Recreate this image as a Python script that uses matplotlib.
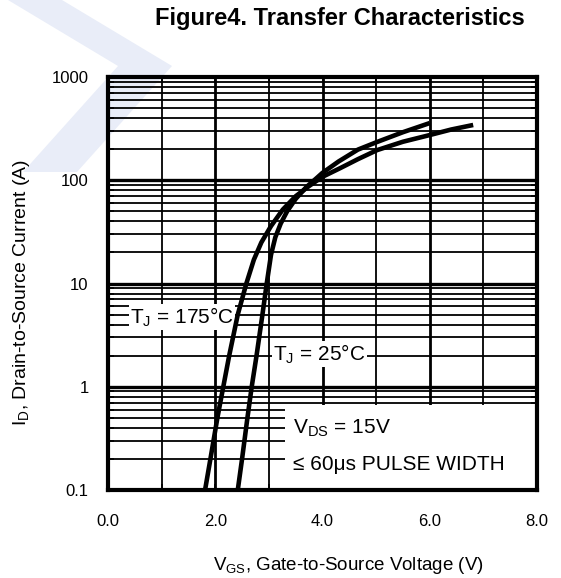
import matplotlib
matplotlib.use("Agg")
import matplotlib.pyplot as plt
import numpy as np
from matplotlib.patches import Polygon, Rectangle
from matplotlib.ticker import FixedLocator, FixedFormatter

vgs_175 = [1.81, 1.91, 2.04, 2.15, 2.26, 2.42, 2.58, 2.72, 2.86, 3.04, 3.26, 3.50, 3.75,
           4.00, 4.33, 4.66, 5.02, 5.50, 6.00, 6.40, 6.81]
id_175 = [0.1, 0.2, 0.5, 1, 2, 5, 10, 17, 25, 36, 52, 70, 88,
          108, 131, 160, 196, 236, 274, 310, 343]

vgs_25 = [2.42, 2.50, 2.60, 2.68, 2.77, 2.88, 2.96, 3.04, 3.12, 3.22, 3.34, 3.50, 3.70,
          3.90, 4.00, 4.30, 4.66, 5.02, 5.50, 6.00]
id_25 = [0.1, 0.2, 0.5, 1, 2, 5, 10, 19, 28, 38, 50, 66, 86,
         106, 118, 152, 198, 235, 292, 358]

x_ticks = [0, 2, 4, 6, 8]
x_labels = ["0.0", "2.0", "4.0", "6.0", "8.0"]
y_ticks = [0.1, 1, 10, 100, 1000]
y_labels = ["0.1", "1", "10", "100", "1000"]

plt.rcParams['font.family'] = ['Liberation Sans', 'DejaVu Sans']

W, H = 561, 578
fig = plt.figure(figsize=(W / 100, H / 100), dpi=100)


def px(x, y):
    return (x / W, 1 - y / H)


# faint watermark chevron behind everything
wm = '#e9edf8'
arm1 = [px(8, 0), px(62, 0), px(172, 66), px(118, 66)]
arm2 = [px(118, 66), px(172, 66), px(77, 172), px(23, 172)]
for pts in (arm1, arm2):
    fig.patches.append(Polygon(pts, closed=True, transform=fig.transFigure,
                               facecolor=wm, edgecolor='none', zorder=0))

ax = fig.add_axes([108 / W, 1 - 490 / H, 429 / W, 413 / H])
ax.set_zorder(1)
ax.set_facecolor('none')
ax.set_yscale('log')
ax.set_xlim(0, 8)
ax.set_ylim(0.1, 1000)

# grid
for v in range(1, 8):
    ax.axvline(v, color='black', lw=2.0 if v % 2 == 0 else 1.3, zorder=1)
for dec in [0.1, 1, 10, 100]:
    for m in range(2, 10):
        ax.axhline(dec * m, color='black', lw=1.3, zorder=1)
    if dec > 0.1:
        ax.axhline(dec, color='black', lw=2.4, zorder=1)

# curves
ax.plot(vgs_175, id_175, color='black', lw=3.3, zorder=4, solid_capstyle='butt')
ax.plot(vgs_25, id_25, color='black', lw=3.3, zorder=4, solid_capstyle='butt')

# white box with the test conditions
ax.add_patch(Rectangle(((285 - 108) / 429, 0), 1, (490 - 405) / 413, transform=ax.transAxes,
                       facecolor='white', edgecolor='none', zorder=2))
ax.text((293 - 108) / 429, (490 - 433) / 413, r'V$_\mathregular{DS}$ = 15V', transform=ax.transAxes,
        fontsize=15, ha='left', va='baseline', zorder=5)
ax.text((293 - 108) / 429, (490 - 470) / 413, '≤ 60μs PULSE WIDTH', transform=ax.transAxes,
        fontsize=15, ha='left', va='baseline', zorder=5)

# curve labels
ax.text((130 - 108) / 429, (490 - 323) / 413, r'T$_\mathregular{J}$ = 175°C', transform=ax.transAxes,
        fontsize=15, ha='left', va='baseline', zorder=3,
        bbox=dict(facecolor='white', edgecolor='none', pad=1.0))
ax.text((273 - 108) / 429, (490 - 360) / 413, r'T$_\mathregular{J}$ = 25°C', transform=ax.transAxes,
        fontsize=15, ha='left', va='baseline', zorder=3,
        bbox=dict(facecolor='white', edgecolor='none', pad=1.0))

# ticks
ax.xaxis.set_major_locator(FixedLocator(x_ticks))
ax.xaxis.set_major_formatter(FixedFormatter(x_labels))
ax.xaxis.set_minor_locator(FixedLocator([1, 3, 5, 7]))
ax.yaxis.set_major_locator(FixedLocator(y_ticks))
ax.yaxis.set_major_formatter(FixedFormatter(y_labels))
ax.tick_params(which='both', direction='in', length=4, width=1.2, top=True, right=True)
ax.tick_params(axis='x', which='major', labelsize=12, pad=17)
ax.tick_params(axis='y', which='major', labelsize=12, pad=14)

for s in ax.spines.values():
    s.set_linewidth(3.0)
    s.set_zorder(6)

ax.set_xlabel(r'V$_\mathregular{GS}$, Gate-to-Source Voltage (V)', fontsize=13.5)
ax.xaxis.set_label_coords((348 - 108) / 429, -(565 - 490) / 413)
ax.set_ylabel(r'I$_\mathregular{D}$, Drain-to-Source Current (A)', fontsize=14)
ax.yaxis.set_label_coords(-(108 - 22) / 429, (490 - 292) / 413)
ax.xaxis.label.set_va('center')
ax.yaxis.label.set_va('center')

fig.text(340 / W, 1 - 18 / H, 'Figure4. Transfer Characteristics', fontsize=17, fontweight='bold',
         ha='center', va='center')

fig.savefig('out.png', dpi=100)
